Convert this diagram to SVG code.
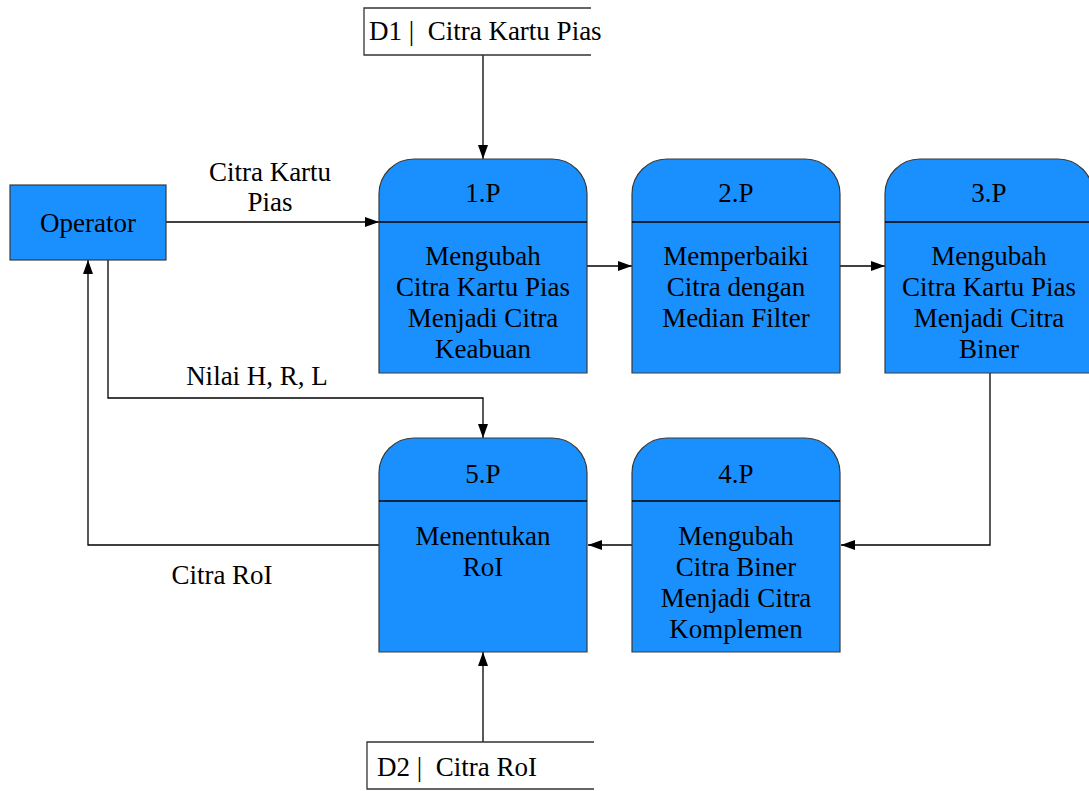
<svg xmlns="http://www.w3.org/2000/svg" width="1089" height="791" viewBox="0 0 1089 791">
<defs>
<marker id="arr" markerWidth="14" markerHeight="10" refX="14" refY="5" orient="auto" markerUnits="userSpaceOnUse">
<path d="M0,0 L14,5 L0,10 Z" fill="#000"/>
</marker>
<style>
.proc{fill:#1a90ff;stroke:#3a3a3a;stroke-width:1.2}
.div{stroke:#000;stroke-width:1.5}
.t{font-family:"Liberation Serif",serif;font-size:27px;fill:#000;text-anchor:middle}
.ts{font-family:"Liberation Serif",serif;font-size:27px;fill:#000}
.c{fill:none;stroke:#000;stroke-width:1.3}
.store{fill:none;stroke:#333;stroke-width:1.3}
</style>
</defs>
<rect width="1089" height="791" fill="#fff"/>

<g id="connectors">
<path class="c" d="M483,55 V159" marker-end="url(#arr)"/>
<path class="c" d="M166,222 H379" marker-end="url(#arr)"/>
<path class="c" d="M587,266 H632" marker-end="url(#arr)"/>
<path class="c" d="M840,266 H885" marker-end="url(#arr)"/>
<path class="c" d="M990,373 V545 H841" marker-end="url(#arr)"/>
<path class="c" d="M632,545 H588" marker-end="url(#arr)"/>
<path class="c" d="M379,545 H88 V260" marker-end="url(#arr)"/>
<path class="c" d="M108,260 V398 H483 V438" marker-end="url(#arr)"/>
<path class="c" d="M483,742 V652" marker-end="url(#arr)"/>
<text class="t" x="270" y="181">Citra Kartu</text>
<text class="t" x="270" y="211">Pias</text>
<text class="t" x="257" y="385">Nilai H, R, L</text>
<text class="t" x="222" y="584">Citra RoI</text>
</g>

<g id="operator">
<rect x="10" y="185" width="156" height="75" fill="#1a90ff" stroke="#3a3a3a" stroke-width="1.2"/>
<text class="t" x="88" y="232">Operator</text>
</g>

<g id="d1">
<path class="store" d="M591,8 H364 V55 H591"/>
<text class="ts" x="369" y="40" xml:space="preserve">D1 |  Citra Kartu Pias</text>
</g>

<g id="d2">
<path class="store" d="M594,742 H367 V789 H594"/>
<text class="ts" x="377" y="776" xml:space="preserve">D2 |  Citra RoI</text>
</g>

<g id="p1">
<path class="proc" d="M379,373 V194 A35,35 0 0 1 414,159 H552 A35,35 0 0 1 587,194 V373 Z"/>
<line class="div" x1="379" y1="222" x2="587" y2="222"/>
<text class="t" x="483" y="202">1.P</text>
<text class="t" x="483" y="265">Mengubah</text>
<text class="t" x="483" y="296">Citra Kartu Pias</text>
<text class="t" x="483" y="327">Menjadi Citra</text>
<text class="t" x="483" y="358">Keabuan</text>
</g>

<g id="p2">
<path class="proc" d="M632,373 V194 A35,35 0 0 1 667,159 H805 A35,35 0 0 1 840,194 V373 Z"/>
<line class="div" x1="632" y1="222" x2="840" y2="222"/>
<text class="t" x="736" y="202">2.P</text>
<text class="t" x="736" y="265">Memperbaiki</text>
<text class="t" x="736" y="296">Citra dengan</text>
<text class="t" x="736" y="327">Median Filter</text>
</g>

<g id="p3">
<path class="proc" d="M885,373 V194 A35,35 0 0 1 920,159 H1058 A35,35 0 0 1 1093,194 V373 Z"/>
<line class="div" x1="885" y1="222" x2="1093" y2="222"/>
<text class="t" x="989" y="202">3.P</text>
<text class="t" x="989" y="265">Mengubah</text>
<text class="t" x="989" y="296">Citra Kartu Pias</text>
<text class="t" x="989" y="327">Menjadi Citra</text>
<text class="t" x="989" y="358">Biner</text>
</g>

<g id="p4">
<path class="proc" d="M632,652 V473 A35,35 0 0 1 667,438 H805 A35,35 0 0 1 840,473 V652 Z"/>
<line class="div" x1="632" y1="501" x2="840" y2="501"/>
<text class="t" x="736" y="483">4.P</text>
<text class="t" x="736" y="545">Mengubah</text>
<text class="t" x="736" y="576">Citra Biner</text>
<text class="t" x="736" y="607">Menjadi Citra</text>
<text class="t" x="736" y="638">Komplemen</text>
</g>

<g id="p5">
<path class="proc" d="M379,652 V473 A35,35 0 0 1 414,438 H552 A35,35 0 0 1 587,473 V652 Z"/>
<line class="div" x1="379" y1="501" x2="587" y2="501"/>
<text class="t" x="483" y="483">5.P</text>
<text class="t" x="483" y="545">Menentukan</text>
<text class="t" x="483" y="576">RoI</text>
</g>
</svg>
